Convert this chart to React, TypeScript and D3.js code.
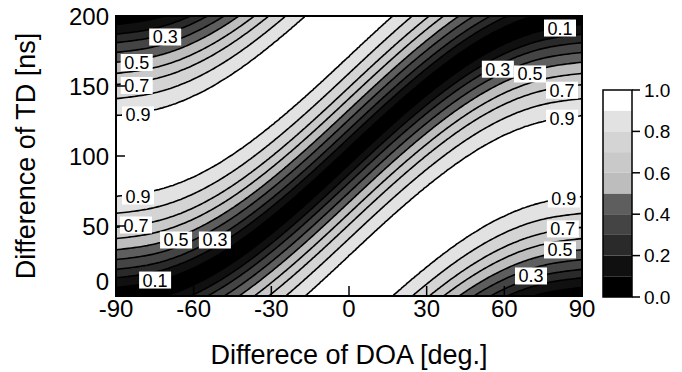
import React, { useEffect, useRef } from "react";
import * as d3 from "d3";

// axes
const doaTicks = [-90, -60, -30, 0, 30, 60, 90];
const tdTicks = [0, 50, 100, 150, 200];
const barTicks = [0, 0.2, 0.4, 0.6, 0.8, 1.0];
const levels = [0.1, 0.2, 0.3, 0.4, 0.5, 0.6, 0.7, 0.8, 0.9];
// gray for each 0.1 band, from 0-0.1 up to 0.9-1.0
const bandColors = ["#000000", "#101010", "#2a2a2a", "#444444", "#5e5e5e", "#bdbdbd", "#c9c9c9", "#d4d4d4", "#e2e2e2", "#ffffff"];

// TD of the white crest (value 1.0) read at each DOA difference
const crestDoa = [-90, -75, -60, -45, -30, -15, 0, 15, 30, 45, 60, 75, 90];
const crestTd = [100, 103, 113, 129, 150, 174, 200, 226, 250, 271, 287, 297, 300];
// distance from the crest [ns] where each level is reached
const profileOffset = [0, 29, 41, 51, 59, 67, 74, 81, 87, 94, 100];
const profileValue = [1.0, 0.9, 0.8, 0.7, 0.6, 0.5, 0.4, 0.3, 0.2, 0.1, 0.0];
const period = 200;

// inline contour labels
const labelDoa = [-71, -82, -82, -81.5, -81.5, -82.3, -66.8, -51.8, -74.9, 81.5, 57.5, 69.9, 82.3, 82.3, 83, 82.6, 81.5, 70.3];
const labelTd = [185, 166.8, 150.4, 129.3, 71.4, 50.7, 40, 40, 11.4, 191.4, 162, 158.6, 147, 127, 69.3, 47.9, 32.9, 14.3];
const labelText = ["0.3", "0.5", "0.7", "0.9", "0.9", "0.7", "0.5", "0.3", "0.1", "0.1", "0.3", "0.5", "0.7", "0.9", "0.9", "0.7", "0.5", "0.3"];

const width = 682;
const height = 372;
const plot = { left: 116, right: 582, top: 16, bottom: 296 };
const bar = { left: 603, right: 632, top: 90, bottom: 297 };
const font = "'Liberation Sans', Arial, Helvetica, sans-serif";

const App = () => {
  const svgRef = useRef(null);

  useEffect(() => {
    const svg = d3.select(svgRef.current);
    svg.selectAll("*").remove();

    const x = d3.scaleLinear().domain([-90, 90]).range([plot.left, plot.right]);
    const y = d3.scaleLinear().domain([0, 200]).range([plot.bottom, plot.top]);

    // grid for d3.contours, 1 deg x 1 ns
    const nx = 181;
    const ny = 201;
    const crest = d3.interpolateBasis(crestTd);
    const profile = d3.scaleLinear().domain(profileOffset).range(profileValue).clamp(true);
    const grid = new Array(nx * ny);
    for (let j = 0; j < ny; j++) {
      for (let i = 0; i < nx; i++) {
        const doa = -90 + i;
        const c = crest((doa - crestDoa[0]) / (crestDoa[crestDoa.length - 1] - crestDoa[0]));
        const d = (((j - c) % period) + period) % period;
        grid[j * nx + i] = profile(Math.min(d, period - d));
      }
    }
    const contours = d3.contours().size([nx, ny]).thresholds(levels)(grid);
    const path = d3.geoPath(
      d3.geoTransform({
        point(u, v) {
          this.stream.point(x(-90 + (u - 0.5)), y(v - 0.5));
        },
      })
    );

    svg
      .append("defs")
      .append("clipPath")
      .attr("id", "plot-clip")
      .append("rect")
      .attr("x", plot.left)
      .attr("y", plot.top)
      .attr("width", plot.right - plot.left)
      .attr("height", plot.bottom - plot.top);

    const g = svg.append("g").attr("clip-path", "url(#plot-clip)");
    g.append("rect")
      .attr("x", plot.left)
      .attr("y", plot.top)
      .attr("width", plot.right - plot.left)
      .attr("height", plot.bottom - plot.top)
      .attr("fill", bandColors[0]);

    g.selectAll("path.fill")
      .data(contours)
      .join("path")
      .attr("class", "fill")
      .attr("d", path)
      .attr("fill", (d, i) => bandColors[i + 1]);

    g.selectAll("path.line")
      .data(contours)
      .join("path")
      .attr("class", "line")
      .attr("d", path)
      .attr("fill", "none")
      .attr("stroke", "#000")
      .attr("stroke-width", 1.6);

    // contour labels
    const lab = g
      .selectAll("g.lab")
      .data(labelText)
      .join("g")
      .attr("class", "lab")
      .attr("transform", (d, i) => `translate(${x(labelDoa[i])},${y(labelTd[i])})`);
    lab.append("rect").attr("x", -16).attr("y", -8.5).attr("width", 32).attr("height", 17).attr("fill", "#fff");
    lab
      .append("text")
      .attr("text-anchor", "middle")
      .attr("dy", "0.36em")
      .attr("font-family", font)
      .attr("font-size", 18)
      .text((d) => d);

    // frame and ticks
    svg
      .append("rect")
      .attr("x", plot.left)
      .attr("y", plot.top)
      .attr("width", plot.right - plot.left)
      .attr("height", plot.bottom - plot.top)
      .attr("fill", "none")
      .attr("stroke", "#000")
      .attr("stroke-width", 2);

    svg
      .append("g")
      .selectAll("line")
      .data(doaTicks)
      .join("line")
      .attr("x1", (d) => x(d))
      .attr("x2", (d) => x(d))
      .attr("y1", plot.bottom)
      .attr("y2", plot.bottom - 10)
      .attr("stroke", "#000")
      .attr("stroke-width", 1.5);
    svg
      .append("g")
      .selectAll("line")
      .data(tdTicks)
      .join("line")
      .attr("x1", plot.left)
      .attr("x2", plot.left + 9)
      .attr("y1", (d) => y(d))
      .attr("y2", (d) => y(d))
      .attr("stroke", "#000")
      .attr("stroke-width", 1.5);

    svg
      .append("g")
      .attr("font-family", font)
      .attr("font-size", 24)
      .attr("text-anchor", "middle")
      .selectAll("text")
      .data(doaTicks)
      .join("text")
      .attr("x", (d) => x(d))
      .attr("y", plot.bottom + 21)
      .text((d) => d);
    svg
      .append("g")
      .attr("font-family", font)
      .attr("font-size", 24)
      .attr("text-anchor", "end")
      .selectAll("text")
      .data(tdTicks)
      .join("text")
      .attr("x", plot.left - 7)
      .attr("y", (d) => (d === 0 ? y(d) - 15 : y(d)))
      .attr("dy", "0.36em")
      .text((d) => d);

    svg
      .append("text")
      .attr("x", (plot.left + plot.right) / 2)
      .attr("y", 364)
      .attr("text-anchor", "middle")
      .attr("font-family", font)
      .attr("font-size", 27)
      .text("Differece of DOA [deg.]");
    svg
      .append("text")
      .attr("transform", `translate(35,${(plot.top + plot.bottom) / 2}) rotate(-90)`)
      .attr("text-anchor", "middle")
      .attr("font-family", font)
      .attr("font-size", 27)
      .text("Difference of TD [ns]");

    // colour bar
    const b = d3.scaleLinear().domain([0, 1]).range([bar.bottom, bar.top]);
    const bands = d3.range(10);
    svg
      .append("g")
      .selectAll("rect")
      .data(bands)
      .join("rect")
      .attr("x", bar.left)
      .attr("width", bar.right - bar.left)
      .attr("y", (k) => b((k + 1) / 10))
      .attr("height", (k) => b(k / 10) - b((k + 1) / 10))
      .attr("fill", (k) => bandColors[k]);
    svg
      .append("rect")
      .attr("x", bar.left)
      .attr("y", bar.top)
      .attr("width", bar.right - bar.left)
      .attr("height", bar.bottom - bar.top)
      .attr("fill", "none")
      .attr("stroke", "#000")
      .attr("stroke-width", 1.5);
    const bt = svg.append("g").selectAll("g").data(barTicks).join("g").attr("transform", (d) => `translate(${bar.right},${b(d)})`);
    bt.append("line").attr("x2", 8).attr("stroke", "#000").attr("stroke-width", 1.5);
    bt.append("text")
      .attr("x", 12)
      .attr("dy", "0.36em")
      .attr("font-family", font)
      .attr("font-size", 19)
      .text((d) => d.toFixed(1));
  }, []);

  return <svg ref={svgRef} width={width} height={height} style={{ position: "absolute", left: 0, top: 0, background: "#fff" }}></svg>;
};

export default App;
